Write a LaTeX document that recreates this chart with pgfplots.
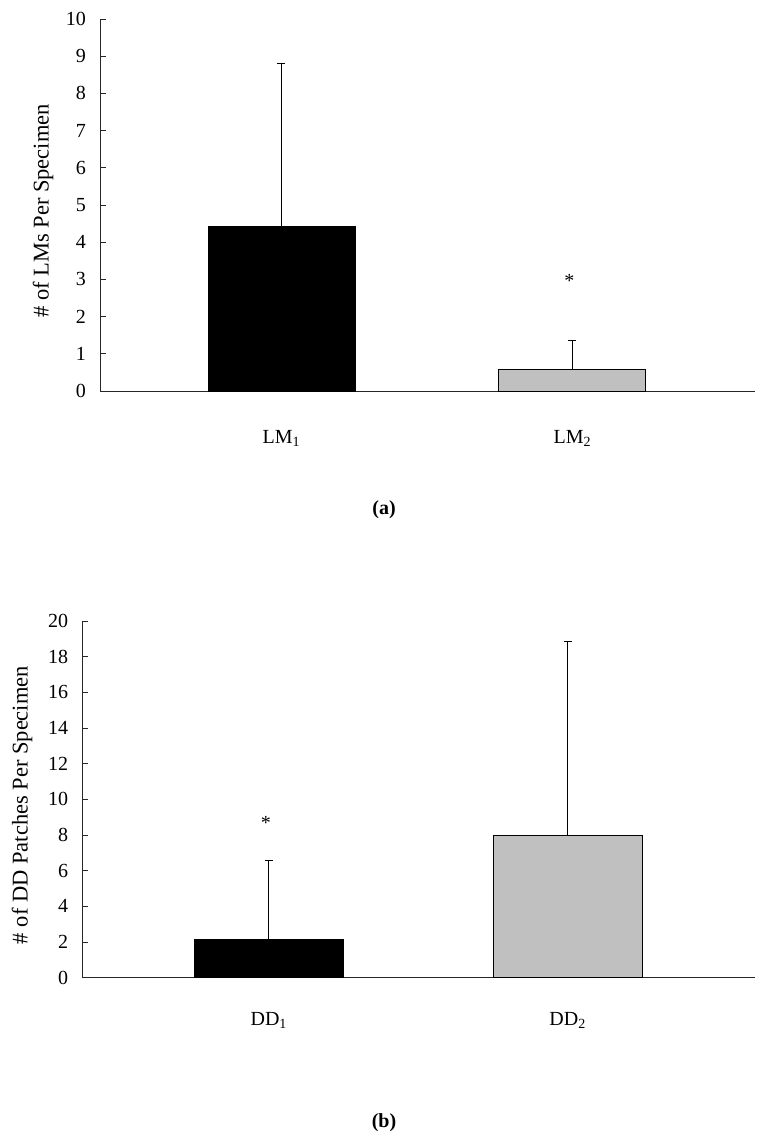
\documentclass[border=0pt]{standalone}
\usepackage{pgfplots}
\pgfplotsset{compat=1.18}
\usepackage{fontspec}
\setmainfont{Liberation Serif}
\definecolor{barGray}{RGB}{192,192,192}
\begin{document}
\begin{tikzpicture}
\path (0bp,0bp) rectangle (770bp,1145bp);
\pgfplotsset{
 myax/.style={
  scale only axis,
  axis x line*=bottom, axis y line*=left,
  axis line style={line width=0.9bp, black!85},
  ytick style={line width=0.9bp, black!85},
  ytick pos=left,
  tick align=inside,
  major tick length=6bp,
  xtick style={draw=none},
  xtick={0,1},
  ymin=0,
  font=\fontsize{20bp}{24bp}\selectfont,
  ylabel style={font=\fontsize{22.5bp}{26bp}\selectfont},
  /pgf/number format/assume math mode=true,
  clip=false,
 },
 mybar/.style={ybar, bar shift=0pt, draw=black, line width=0.9bp,
  error bars/y dir=plus, error bars/y explicit,
  error bars/error bar style={line width=0.9bp, black},
  error bars/error mark options={rotate=90, mark size=4bp, line width=0.9bp, black}},
}
\begin{axis}[myax, at={(100bp,754bp)}, anchor=south west, width=655bp, height=372bp,
  xmin=-0.624, xmax=1.628, ymax=10, ytick={0,...,10},
  yticklabel style={xshift=-10.6bp},
  xticklabel style={yshift=-36bp},
  xticklabels={LM\textsubscript{1},LM\textsubscript{2}},
  ylabel={\# of LMs Per Specimen},
  ylabel style={at={(axis description cs:-0.087,0.484)}, anchor=center}]
\addplot[mybar, bar width=147bp, fill=black] coordinates {(0,4.41) +- (0,4.40)};
\addplot[mybar, bar width=147bp, fill=barGray] coordinates {(1,0.57) +- (0,0.78)};
\node at (axis cs:0.99,2.95) {*};
\end{axis}
\node[font=\bfseries\fontsize{20bp}{24bp}\selectfont] at (384bp,635bp) {(a)};
\begin{axis}[myax, at={(82bp,167.3bp)}, anchor=south west, width=673bp, height=356.7bp,
  xmin=-0.625, xmax=1.627, ymax=20, ytick={0,2,...,20},
  yticklabel style={xshift=-10.3bp},
  xticklabel style={yshift=-31bp},
  xticklabels={DD\textsubscript{1},DD\textsubscript{2}},
  ylabel={\# of DD Patches Per Specimen},
  ylabel style={at={(axis description cs:-0.089,0.484)}, anchor=center}]
\addplot[mybar, bar width=148.8bp, fill=black] coordinates {(0,2.15) +- (0,4.43)};
\addplot[mybar, bar width=148.8bp, fill=barGray] coordinates {(1,7.96) +- (0,10.88)};
\node at (axis cs:-0.01,8.7) {*};
\end{axis}
\node[font=\bfseries\fontsize{20bp}{24bp}\selectfont] at (384bp,22bp) {(b)};
\end{tikzpicture}
\end{document}
